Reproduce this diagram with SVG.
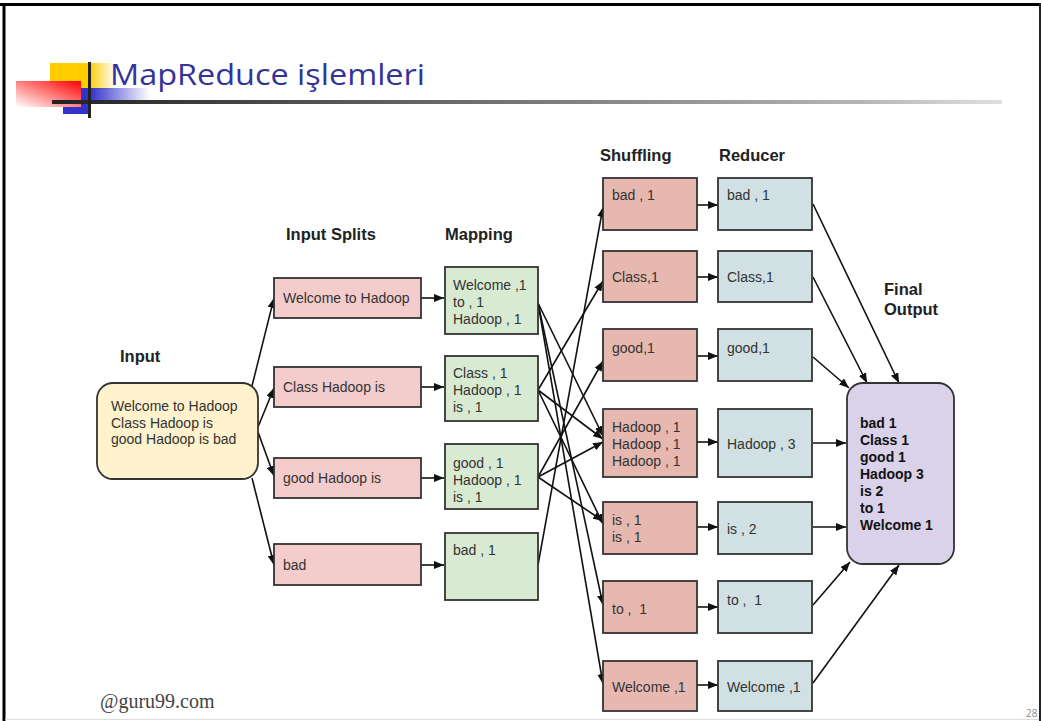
<svg xmlns="http://www.w3.org/2000/svg" width="1041" height="721" viewBox="0 0 1041 721">
<defs>
<style>
.box{stroke:#333;stroke-width:1.8}
.t{font-family:"Liberation Sans",Arial,sans-serif;font-size:14px;fill:#333}
.h{font-family:"Liberation Sans",Arial,sans-serif;font-size:16.5px;font-weight:bold;fill:#222}
.f{font-family:"Liberation Sans",Arial,sans-serif;font-size:14px;font-weight:bold;fill:#111}
.c{stroke:#111;stroke-width:1.6;fill:none;marker-end:url(#ah)}
.split{fill:#f4cccc}
.map{fill:#d9ead3}
.shuf{fill:#e6b8af}
.red{fill:#d0e0e3}
</style>
<marker id="ah" markerUnits="userSpaceOnUse" markerWidth="10" markerHeight="8" refX="10" refY="4" orient="auto">
<path d="M0,0 L10,4 L0,8 z" fill="#111"/>
</marker>
<linearGradient id="gy" x1="0" y1="0" x2="1" y2="0">
<stop offset="0" stop-color="#ffcc00"/><stop offset="0.6" stop-color="#ffcc00"/><stop offset="1" stop-color="#ffcc00" stop-opacity="0"/>
</linearGradient>
<linearGradient id="gr" x1="1" y1="0" x2="0" y2="1">
<stop offset="0" stop-color="#ff0000"/><stop offset="1" stop-color="#ffffff"/>
</linearGradient>
<linearGradient id="gb" x1="0" y1="0" x2="1" y2="0">
<stop offset="0" stop-color="#3333cc"/><stop offset="1" stop-color="#3333cc" stop-opacity="0"/>
</linearGradient>
<linearGradient id="gl" x1="0" y1="0" x2="1" y2="0">
<stop offset="0" stop-color="#222"/><stop offset="0.85" stop-color="#b5b5b5"/><stop offset="1" stop-color="#e0e0e0"/>
</linearGradient>
</defs>
<rect x="0" y="0" width="1041" height="721" fill="#fff"/>
<g id="frame">
<line x1="0" y1="4.5" x2="1041" y2="4.5" stroke="#000" stroke-width="3"/>
<line x1="4" y1="3" x2="4" y2="721" stroke="#000" stroke-width="3"/>
<line x1="1040" y1="3" x2="1040" y2="721" stroke="#222" stroke-width="2"/>
<line x1="5" y1="719.5" x2="1039" y2="719.5" stroke="#ddd" stroke-width="1"/>
</g>
<g id="title-deco">
<rect x="50" y="63" width="65" height="26" fill="url(#gy)"/>
<rect x="63" y="88" width="27" height="26" fill="#3333cc"/>
<rect x="90" y="88" width="60" height="12" fill="url(#gb)"/>
<rect x="16" y="81" width="65" height="26" fill="url(#gr)"/>
<rect x="52" y="100" width="950" height="4" fill="url(#gl)"/>
<line x1="89.5" y1="62" x2="89.5" y2="118" stroke="#222" stroke-width="3"/>
</g>
<text id="title" x="110" y="85" font-family="'Open Sans','Noto Sans',sans-serif" font-size="30" fill="#333399" textLength="315" lengthAdjust="spacingAndGlyphs">MapReduce işlemleri</text>

<g id="labels">
<text class="h" x="120" y="362">Input</text>
<text class="h" x="286" y="240">Input Splits</text>
<text class="h" x="445" y="240">Mapping</text>
<text class="h" x="600" y="161">Shuffling</text>
<text class="h" x="719" y="161">Reducer</text>
<text class="h" x="884" y="295">Final</text>
<text class="h" x="884" y="315">Output</text>
</g>

<g id="connectors">
<line class="c" x1="252" y1="386" x2="274" y2="298"/>
<line class="c" x1="258" y1="427" x2="274" y2="388"/>
<line class="c" x1="258" y1="432" x2="274" y2="476"/>
<line class="c" x1="252" y1="478" x2="274" y2="565"/>
<line class="c" x1="421" y1="298" x2="444" y2="298"/>
<line class="c" x1="421" y1="387" x2="444" y2="387"/>
<line class="c" x1="421" y1="478" x2="444" y2="478"/>
<line class="c" x1="421" y1="565" x2="444" y2="565"/>
<line class="c" x1="538" y1="565" x2="603" y2="207"/>
<line class="c" x1="538" y1="390" x2="603" y2="281"/>
<line class="c" x1="538" y1="477" x2="603" y2="361"/>
<line class="c" x1="538" y1="303" x2="603" y2="436"/>
<line class="c" x1="538" y1="390" x2="603" y2="439"/>
<line class="c" x1="538" y1="477" x2="603" y2="442"/>
<line class="c" x1="538" y1="390" x2="603" y2="524"/>
<line class="c" x1="538" y1="477" x2="603" y2="521"/>
<line class="c" x1="538" y1="303" x2="603" y2="605"/>
<line class="c" x1="538" y1="303" x2="603" y2="684"/>
<line class="c" x1="697" y1="205" x2="718" y2="205"/>
<line class="c" x1="697" y1="277" x2="718" y2="277"/>
<line class="c" x1="697" y1="356" x2="718" y2="356"/>
<line class="c" x1="697" y1="442" x2="718" y2="442"/>
<line class="c" x1="697" y1="527" x2="718" y2="527"/>
<line class="c" x1="697" y1="607" x2="718" y2="607"/>
<line class="c" x1="697" y1="685" x2="718" y2="685"/>
<line class="c" x1="813" y1="204" x2="899" y2="383"/>
<line class="c" x1="813" y1="277" x2="867" y2="383"/>
<line class="c" x1="813" y1="357" x2="849" y2="388"/>
<line class="c" x1="813" y1="443" x2="846" y2="443"/>
<line class="c" x1="813" y1="527" x2="846" y2="527"/>
<line class="c" x1="813" y1="605" x2="850" y2="562"/>
<line class="c" x1="813" y1="683" x2="899" y2="565"/>
</g>

<g id="input">
<rect class="box" x="97" y="383" width="161" height="96" rx="16" fill="#fff2cc"/>
<text class="t" x="111" y="411">Welcome to Hadoop</text>
<text class="t" x="111" y="428">Class Hadoop is</text>
<text class="t" x="111" y="444">good Hadoop is bad</text>
</g>

<g id="split1"><rect class="box split" x="274" y="278" width="147" height="40"/><text class="t" x="283" y="303">Welcome to Hadoop</text></g>
<g id="split2"><rect class="box split" x="274" y="367" width="147" height="40"/><text class="t" x="283" y="392">Class Hadoop is</text></g>
<g id="split3"><rect class="box split" x="274" y="458" width="147" height="40"/><text class="t" x="283" y="483">good Hadoop is</text></g>
<g id="split4"><rect class="box split" x="274" y="544" width="147" height="41"/><text class="t" x="283" y="570">bad</text></g>

<g id="map1"><rect class="box map" x="445" y="267" width="93" height="67"/>
<text class="t" x="453" y="290">Welcome ,1</text><text class="t" x="453" y="307">to , 1</text><text class="t" x="453" y="324">Hadoop , 1</text></g>
<g id="map2"><rect class="box map" x="445" y="356" width="93" height="65"/>
<text class="t" x="453" y="378">Class , 1</text><text class="t" x="453" y="395">Hadoop , 1</text><text class="t" x="453" y="412">is , 1</text></g>
<g id="map3"><rect class="box map" x="445" y="444" width="93" height="65"/>
<text class="t" x="453" y="468">good , 1</text><text class="t" x="453" y="485">Hadoop , 1</text><text class="t" x="453" y="502">is , 1</text></g>
<g id="map4"><rect class="box map" x="445" y="533" width="93" height="67"/>
<text class="t" x="453" y="555">bad , 1</text></g>

<g id="shuf1"><rect class="box shuf" x="603" y="178" width="94" height="52"/><text class="t" x="612" y="200">bad , 1</text></g>
<g id="shuf2"><rect class="box shuf" x="603" y="251" width="94" height="51"/><text class="t" x="612" y="282">Class,1</text></g>
<g id="shuf3"><rect class="box shuf" x="603" y="329" width="94" height="52"/><text class="t" x="612" y="353">good,1</text></g>
<g id="shuf4"><rect class="box shuf" x="603" y="409" width="94" height="68"/>
<text class="t" x="612" y="432">Hadoop , 1</text><text class="t" x="612" y="449">Hadoop , 1</text><text class="t" x="612" y="466">Hadoop , 1</text></g>
<g id="shuf5"><rect class="box shuf" x="603" y="502" width="94" height="52"/>
<text class="t" x="612" y="525">is , 1</text><text class="t" x="612" y="542">is , 1</text></g>
<g id="shuf6"><rect class="box shuf" x="603" y="581" width="94" height="52"/><text class="t" x="612" y="614" xml:space="preserve">to ,  1</text></g>
<g id="shuf7"><rect class="box shuf" x="603" y="661" width="94" height="50"/><text class="t" x="612" y="692">Welcome ,1</text></g>

<g id="red1"><rect class="box red" x="718" y="178" width="94" height="52"/><text class="t" x="727" y="200">bad , 1</text></g>
<g id="red2"><rect class="box red" x="718" y="251" width="94" height="51"/><text class="t" x="727" y="282">Class,1</text></g>
<g id="red3"><rect class="box red" x="718" y="329" width="94" height="52"/><text class="t" x="727" y="353">good,1</text></g>
<g id="red4"><rect class="box red" x="718" y="409" width="94" height="68"/><text class="t" x="727" y="449">Hadoop , 3</text></g>
<g id="red5"><rect class="box red" x="718" y="502" width="94" height="52"/><text class="t" x="727" y="534">is , 2</text></g>
<g id="red6"><rect class="box red" x="718" y="581" width="94" height="52"/><text class="t" x="727" y="605" xml:space="preserve">to ,  1</text></g>
<g id="red7"><rect class="box red" x="718" y="661" width="94" height="50"/><text class="t" x="727" y="692">Welcome ,1</text></g>

<g id="final">
<rect class="box" x="847" y="383" width="107" height="181" rx="16" fill="#d9d2e9"/>
<text class="f" x="860" y="428">bad 1</text>
<text class="f" x="860" y="445">Class 1</text>
<text class="f" x="860" y="462">good 1</text>
<text class="f" x="860" y="479">Hadoop 3</text>
<text class="f" x="860" y="496">is 2</text>
<text class="f" x="860" y="513">to 1</text>
<text class="f" x="860" y="530">Welcome 1</text>
</g>

<text id="watermark" x="100" y="708" font-family="'Liberation Serif','Times New Roman',serif" font-size="20" fill="#444">@guru99.com</text>
<text id="pagenum" x="1026" y="717" font-family="'Open Sans','Noto Sans',sans-serif" font-size="10" fill="#888">28</text>
</svg>
